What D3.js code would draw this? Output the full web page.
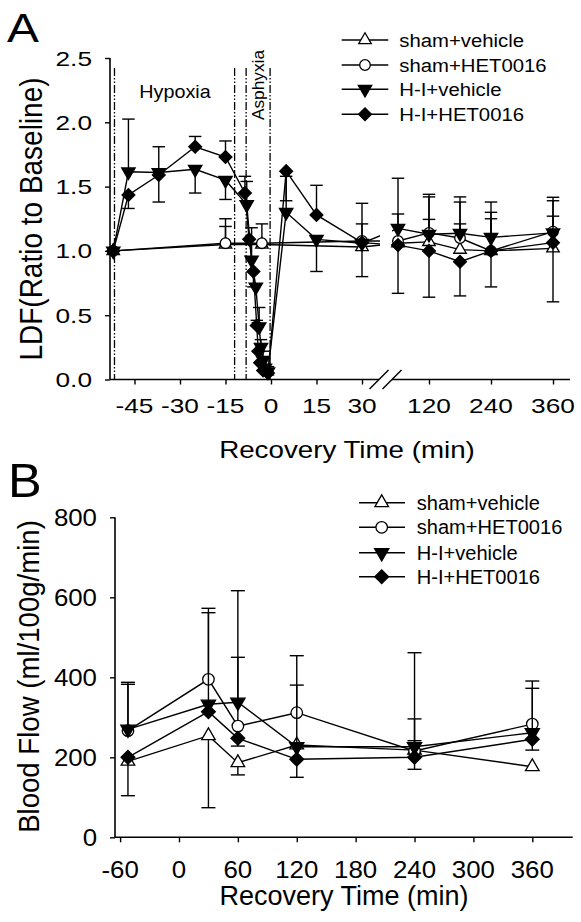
<!DOCTYPE html>
<html><head><meta charset="utf-8">
<script src="https://cdn.jsdelivr.net/npm/d3@7"></script>
<style>html,body{margin:0;padding:0;background:#fff}svg{display:block}text{font-family:"Liberation Sans",Arial,sans-serif;fill:#000}</style>
</head><body>
<script>
// ---------- DATA ----------
const seriesNames = ["sham+vehicle", "sham+HET0016", "H-I+vehicle", "H-I+HET0016"];

// Panel A: LDF ratio to baseline
const aYTicks = [0, 0.5, 1.0, 1.5, 2.0, 2.5];
const aXTicksLeft = [-45, -30, -15, 0, 15, 30];
const aXTicksRight = [120, 240, 360];
const aPhaseLines = [-51.6, -12, -8.2, -0.3];

const aShamTimes = [-52, -15, -3, 30, 60, 120, 180, 240, 360];
const aShamVeh = [1.0, 1.05, 1.05, 1.03, 1.06, 1.07, 1.01, 1.0, 1.02];
const aShamVehUp = [0, 0.14, 0, 0, 0, 0.175, 0.2, 0.25, 0.25];
const aShamVehDn = [0, 0, 0, 0, 0, 0, 0, 0, 0];
const aShamHet = [1.0, 1.06, 1.06, 1.077, 1.077, 1.14, 1.10, 1.0, 1.15];
const aShamHetUp = [0, 0.19, 0.15, 0.133, 0.21, 0.30, 0.28, 0.30, 0.267];
const aShamHetDn = [0, 0, 0, 0, 0, 0, 0, 0, 0];

const aHIVehTimes = [-52, -47, -37, -25, -15, -8, -6.4, -5, -3.9, -3.3, -2.6, -2, -1, 5, 15, 30, 60, 120, 180, 240, 360];
const aHIVeh = [1.0, 1.615, 1.61, 1.635, 1.55, 1.36, 0.93, 0.72, 0.41, 0.25, 0.15, 0.09, 0.06, 1.30, 1.09, 1.06, 1.175, 1.13, 1.137, 1.105, 1.14];
const aHIVehUp = [0, 0.41, 0.2, 0, 0, 0.18, 0.25, 0, 0.15, 0.06, 0.07, 0.01, 0.04, 0.28, 0, 0, 0.39, 0.29, 0.283, 0.275, 0.25];
const aHIVehDn = [0, 0, 0, 0.185, 0.15, 0, 0, 0, 0, 0, 0, 0, 0, 0, 0.25, 0.26, 0, 0, 0, 0, 0];

const aHIHetTimes = [-52, -47, -37, -25, -15, -8.6, -7.2, -5.8, -4.7, -4.2, -3.6, -2.6, -1, 5, 15, 30, 60, 120, 180, 240, 360];
const aHIHet = [1.0, 1.435, 1.59, 1.81, 1.73, 1.45, 1.09, 0.84, 0.42, 0.22, 0.13, 0.07, 0.05, 1.62, 1.28, 1.064, 1.045, 1.0, 0.916, 1.0, 1.064];
const aHIHetUp = [0, 0, 0, 0.08, 0.125, 0.13, 0, 0, 0.04, 0, 0, 0, 0, 0, 0.23, 0.306, 0, 0, 0, 0, 0];
const aHIHetDn = [0, 0.105, 0.21, 0, 0, 0, 0, 0.12, 0, 0, 0, 0, 0.015, 0.23, 0, 0, 0.375, 0.36, 0.266, 0.28, 0.46];

// Panel B: Blood flow (ml/100g/min)
const bYTicks = [0, 200, 400, 600, 800];
const bXTicks = [-60, 0, 60, 120, 180, 240, 300, 360];
const bTimes = [-52, 30, 60, 120, 240, 360];
const bShamVeh = [190, 254, 186.5, 230.7, 218, 176.5];
const bShamVehUp = [0, 0, 0, 0, 23.5, 0];
const bShamVehDn = [0, 180, 30.5, 0, 0, 0];
const bShamHet = [266.5, 395, 278, 311.5, 216, 283];
const bShamHetUp = [121, 177.5, 172, 69, 80, 107.7];
const bShamHetDn = [0, 0, 0, 0, 0, 0];
const bHIVeh = [270, 332.5, 337.5, 226.5, 226.5, 261.5];
const bHIVehUp = [112.5, 229, 279, 227.5, 235, 111];
const bHIVehDn = [0, 0, 0, 0, 0, 0];
const bHIHet = [200, 314, 247.5, 195, 200, 245];
const bHIHetUp = [0, 0, 0, 0, 0, 0];
const bHIHetDn = [96, 0, 19.5, 45, 30, 27];

// ---------- DRAWING ----------
const W = 581, H = 922;
const svg = d3.select("body").append("svg").attr("width", W).attr("height", H);

function label(g, s, x, y, size, sx, anchor, rot) {
  return g.append("text")
    .attr("transform", `translate(${x},${y}) scale(${sx},1)` + (rot ? ` rotate(${rot})` : ""))
    .attr("font-size", size).attr("text-anchor", anchor || "start").text(s);
}

const markerStyles = [
  {type: d3.symbolTriangle, rot: 0, fill: "#fff"},
  {type: d3.symbolCircle, rot: 0, fill: "#fff"},
  {type: d3.symbolTriangle, rot: 180, fill: "#000"},
  {type: d3.symbolSquare, rot: 45, fill: "#000"}
];
const markerSizes = {A: [68, 88, 78, 82], B: [80, 104, 88, 95]};

function drawMarker(g, i, x, y, panel) {
  const st = markerStyles[i];
  g.append("path")
    .attr("d", d3.symbol().type(st.type).size(markerSizes[panel][i])())
    .attr("transform", `translate(${x},${y}) rotate(${st.rot})`)
    .attr("fill", st.fill).attr("stroke", "#000").attr("stroke-width", 1.3);
}

function drawSeries(g, clipId, xs, ys, vals, ups, dns, times, i, panel, capW) {
  const pts = times.map((t, k) => [xs(t), ys(vals[k])]);
  const lg = g.append("g");
  if (clipId) lg.attr("clip-path", `url(#${clipId})`);
  lg.append("path").attr("d", d3.line()(pts)).attr("fill", "none").attr("stroke", "#000").attr("stroke-width", 1.4);
  const eg = g.append("g").attr("stroke", "#000").attr("stroke-width", 1.4);
  times.forEach((t, k) => {
    const x = xs(t);
    [[ups[k], 1], [dns[k], -1]].forEach(([e, s]) => {
      if (!e) return;
      const y0 = ys(vals[k]), y1 = ys(vals[k] + s * e);
      eg.append("line").attr("x1", x).attr("x2", x).attr("y1", y0).attr("y2", y1);
      eg.append("line").attr("x1", x - capW / 2).attr("x2", x + capW / 2).attr("y1", y1).attr("y2", y1);
    });
  });
  const mg = g.append("g");
  pts.forEach(p => drawMarker(mg, i, p[0], p[1], panel));
}

function legend(g, x0, x1, xm, xt, ys, size, sx, panel) {
  seriesNames.forEach((n, i) => {
    g.append("line").attr("x1", x0).attr("x2", x1).attr("y1", ys[i]).attr("y2", ys[i]).attr("stroke", "#000").attr("stroke-width", 1.4);
    drawMarker(g, i, xm, ys[i], panel);
    label(g, n, xt, ys[i] + size * 0.36, size, sx, "start");
  });
}

// ===== Panel A =====
const gA = svg.append("g");
const yA = d3.scaleLinear().domain([0, 2.5]).range([379.5, 58]);
const xA1 = d3.scaleLinear().domain([0, 30]).range([271, 362]);
const xA2 = d3.scaleLinear().domain([120, 360]).range([429, 553]);
const xA = t => (t <= 45 ? xA1(t) : xA2(t));

svg.append("defs").append("clipPath").attr("id", "brk")
  .call(c => { c.append("rect").attr("x", 0).attr("y", 0).attr("width", 380).attr("height", 460);
               c.append("rect").attr("x", 392).attr("y", 0).attr("width", 200).attr("height", 460); });

// phase lines
aPhaseLines.forEach(t => {
  gA.append("line").attr("x1", xA(t)).attr("x2", xA(t)).attr("y1", 68).attr("y2", 379.5)
    .attr("stroke", "#000").attr("stroke-width", 1.3).attr("stroke-dasharray", "8,2,1.5,2,1.5,2");
});
label(gA, "Hypoxia", 175, 97.5, 19, 1.04, "middle");
label(gA, "Asphyxia", 263.5, 85, 17.3, 1.0, "middle", -90);

// axes
const axY = gA.append("g").attr("transform", "translate(110,0)")
  .call(d3.axisLeft(yA).tickValues(aYTicks).tickSize(5).tickFormat(() => ""));
axY.select(".domain").attr("d", "M0,58V379.5").attr("stroke-width", 1.6);
axY.selectAll(".tick line").attr("stroke-width", 1.4);
aYTicks.forEach(v => label(gA, d3.format(".1f")(v), 92, yA(v) + 7.5, 21, 1.25, "end"));

const axX1 = gA.append("g").attr("transform", "translate(0,379.5)")
  .call(d3.axisBottom(xA1).tickValues(aXTicksLeft).tickSize(5).tickFormat(() => ""));
axX1.select(".domain").attr("d", "M110,0H379").attr("stroke-width", 1.6);
axX1.selectAll(".tick line").attr("stroke-width", 1.4);
const axX2 = gA.append("g").attr("transform", "translate(0,379.5)")
  .call(d3.axisBottom(xA2).tickValues(aXTicksRight).tickSize(5).tickFormat(() => ""));
axX2.select(".domain").attr("d", "M392,0H570").attr("stroke-width", 1.6);
axX2.selectAll(".tick line").attr("stroke-width", 1.4);
aXTicksLeft.forEach(t => label(gA, String(t), xA1(t), 413, 21, 1.25, "middle"));
aXTicksRight.forEach(t => label(gA, String(t), xA2(t), 413, 21, 1.25, "middle"));
// break marks
[379, 392].forEach(cx => gA.append("line").attr("x1", cx - 9.5).attr("y1", 389).attr("x2", cx + 9.5).attr("y2", 370)
  .attr("stroke", "#000").attr("stroke-width", 1.4));

label(gA, "Recovery Time (min)", 347, 458, 23.5, 1.18, "middle");
label(gA, "LDF(Ratio to Baseline)", 42, 219, 28, 1.1, "middle", -90);
label(gA, "A", 7, 42, 40.5, 1.18, "start");

const sA = gA.append("g");
drawSeries(sA, "brk", xA, yA, aShamVeh, aShamVehUp, aShamVehDn, aShamTimes, 0, "A", 12.5);
drawSeries(sA, "brk", xA, yA, aShamHet, aShamHetUp, aShamHetDn, aShamTimes, 1, "A", 12.5);
drawSeries(sA, "brk", xA, yA, aHIVeh, aHIVehUp, aHIVehDn, aHIVehTimes, 2, "A", 12.5);
drawSeries(sA, "brk", xA, yA, aHIHet, aHIHetUp, aHIHetDn, aHIHetTimes, 3, "A", 12.5);

legend(gA, 341.7, 388.3, 365, 399.3, [40, 65, 89.3, 114.3], 19, 1.07, "A");

// ===== Panel B =====
const gB = svg.append("g");
const yB = d3.scaleLinear().domain([0, 800]).range([837.3, 517.3]);
const xB = d3.scaleLinear().domain([-60, 360]).range([120.1, 532.3]);

const bY = gB.append("g").attr("transform", "translate(115,0)")
  .call(d3.axisLeft(yB).tickValues(bYTicks).tickSize(5).tickFormat(() => ""));
bY.select(".domain").attr("d", "M0,517.3V837.3").attr("stroke-width", 1.6);
bY.selectAll(".tick line").attr("stroke-width", 1.4);
bYTicks.forEach(v => label(gB, String(v), 97, yB(v) + 8.3, 23.5, 1.1, "end"));

const bX = gB.append("g").attr("transform", "translate(0,837.3)")
  .call(d3.axisBottom(xB).tickValues(bXTicks).tickSize(5).tickFormat(() => ""));
bX.select(".domain").attr("d", "M115,0H572.7").attr("stroke-width", 1.6);
bX.selectAll(".tick line").attr("stroke-width", 1.4);
bXTicks.forEach(t => label(gB, String(t), xB(t), 878, 23.5, 1.1, "middle"));

label(gB, "Recovery Time (min)", 344, 905, 27, 1.0, "middle");
label(gB, "Blood Flow (ml/100g/min)", 39, 676.5, 27.6, 1.05, "middle", -90);
label(gB, "B", 8, 496.7, 49, 1.03, "start");

const sB = gB.append("g");
drawSeries(sB, null, xB, yB, bShamVeh, bShamVehUp, bShamVehDn, bTimes, 0, "B", 14);
drawSeries(sB, null, xB, yB, bShamHet, bShamHetUp, bShamHetDn, bTimes, 1, "B", 14);
drawSeries(sB, null, xB, yB, bHIVeh, bHIVehUp, bHIVehDn, bTimes, 2, "B", 14);
drawSeries(sB, null, xB, yB, bHIHet, bHIHetUp, bHIHetDn, bTimes, 3, "B", 14);

legend(gB, 359, 405, 381.7, 416.7, [502.7, 527.3, 552.7, 576.7], 19.5, 1.03, "B");
</script>
</body></html>
